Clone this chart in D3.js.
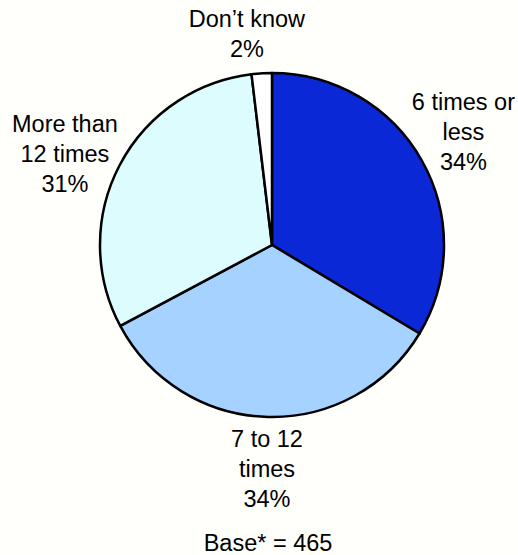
<!DOCTYPE html>
<html><head><meta charset="utf-8">
<script src="https://cdn.jsdelivr.net/npm/d3@7"></script>
<style>html,body{margin:0;padding:0;background:#fffffb;}svg{display:block;}</style>
</head><body>
<script>
const categories = ["6 times or less", "7 to 12 times", "More than 12 times", "Don\u2019t know"];
const values = [33.6, 33.6, 30.9, 1.9];
const valueLabels = ["34%", "34%", "31%", "2%"];
const labelLines = [["6 times or", "less"], ["7 to 12", "times"], ["More than", "12 times"], ["Don\u2019t know"]];
const colors = ["#0a28d6", "#a6d2ff", "#dcfcfe", "#ffffff"];
const baseText = "Base* = 465";

const W = 518, H = 555, cx = 272, cy = 245, R = 172;
const FS = 23.5;
const svg = d3.select("body").append("svg").attr("width", W).attr("height", H);
svg.append("rect").attr("width", W).attr("height", H).attr("fill", "#fffffb");

const pie = d3.pie().sort(null).value(d => d)(values);
const arc = d3.arc().innerRadius(0).outerRadius(R);
const g = svg.append("g").attr("transform", `translate(${cx},${cy})`);
g.selectAll("path").data(pie).join("path")
  .attr("d", arc)
  .attr("fill", (d, i) => colors[i])
  .attr("stroke", "#000").attr("stroke-width", 2.5).attr("stroke-linejoin", "round");

// label centres: arc direction at label radius, with small nudges
const labelArc = d3.arc().innerRadius(220).outerRadius(220);
const nudges = [[0, -5.5], [0.5, 3.6], [-12, 10], [-12, 8]];
const lh = 30;
pie.forEach((d, i) => {
  const [x, y] = labelArc.centroid(d);
  const lines = labelLines[i].concat([valueLabels[i]]);
  const n = lines.length;
  const px = cx + x + nudges[i][0], py = cy + y + nudges[i][1];
  const t = svg.append("text")
    .attr("text-anchor", "middle")
    .attr("font-family", "Liberation Sans, Arial, sans-serif")
    .attr("font-size", FS).attr("fill", "#000");
  lines.forEach((l, k) => {
    t.append("tspan").attr("x", px).attr("y", py + (k - (n - 1) / 2) * lh + 8.5).text(l);
  });
});

svg.append("text").attr("x", 268).attr("y", 551).attr("text-anchor", "middle")
  .attr("font-family", "Liberation Sans, Arial, sans-serif").attr("font-size", FS)
  .attr("fill", "#000").text(baseText);
</script>
</body></html>
